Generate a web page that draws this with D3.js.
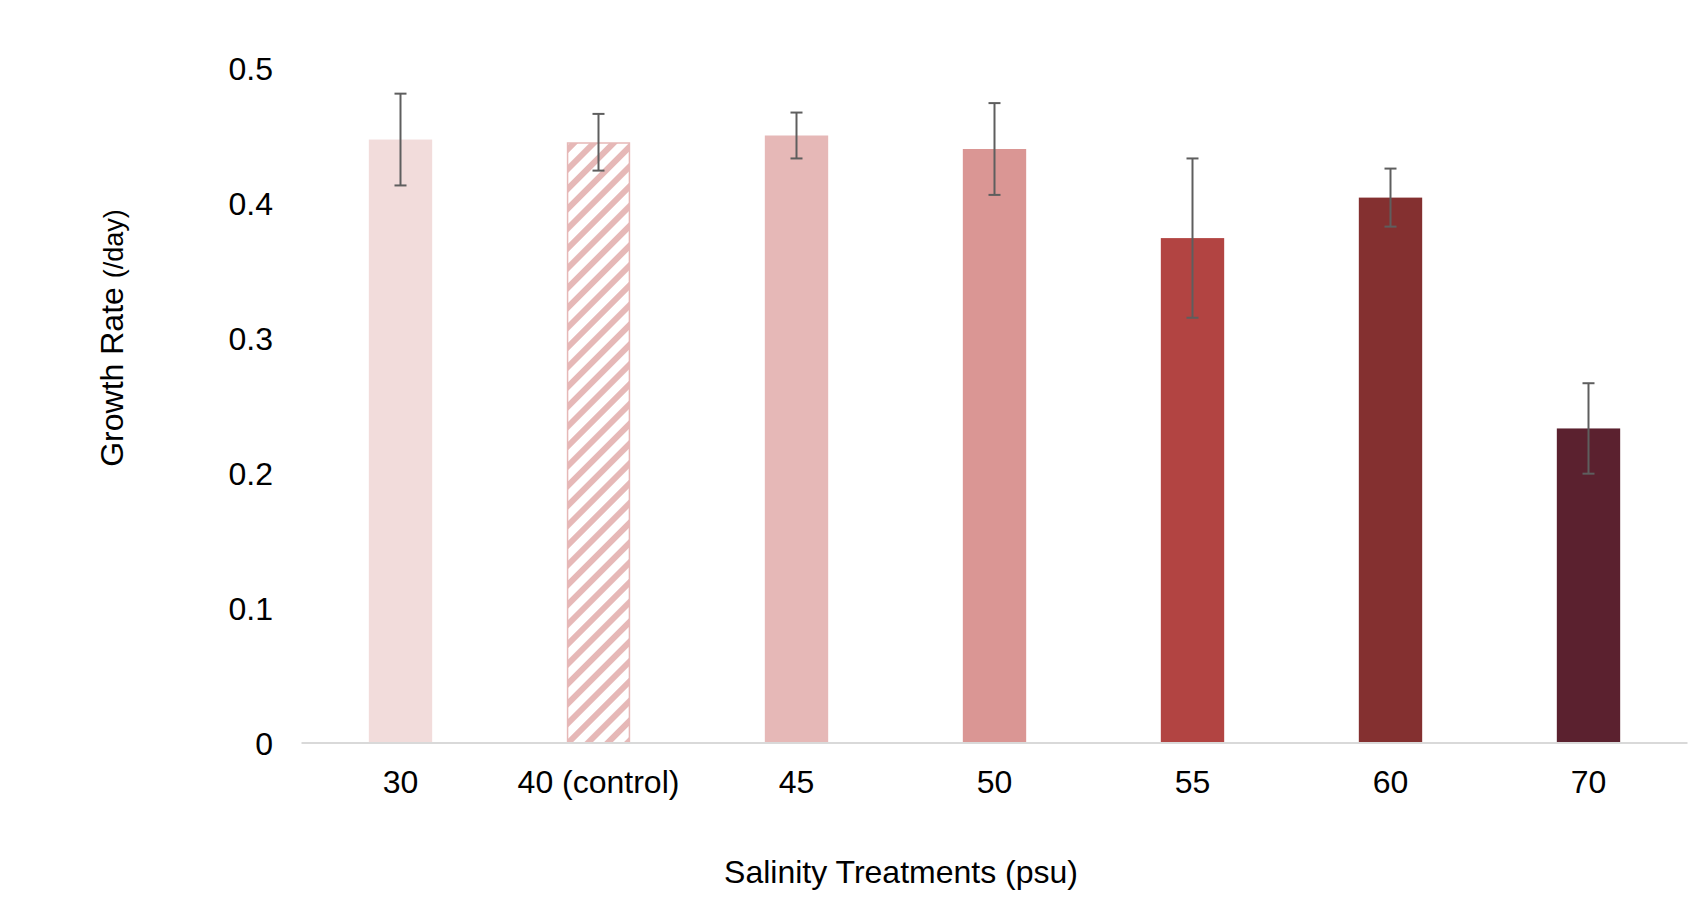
<!DOCTYPE html>
<html>
<head>
<meta charset="utf-8">
<script src="https://cdn.jsdelivr.net/npm/d3@7"></script>
<style>
  html, body { margin: 0; padding: 0; background: #fff; }
  svg text { font-family: "Liberation Sans", Arial, sans-serif; fill: #000; }
</style>
</head>
<body>
<svg id="chart" width="1700" height="900"></svg>
<script>
// Salinity treatments and mean growth rates with standard deviations
const categories = ["30", "40 (control)", "45", "50", "55", "60", "70"];
const growthRate = [0.447, 0.445, 0.450, 0.440, 0.374, 0.404, 0.233];
const errorSize  = [0.034, 0.021, 0.017, 0.034, 0.059, 0.0215, 0.0335];
const barColors  = ["#F2DCDB", "#E6B8B7", "#E6B8B7", "#DA9694", "#B24442", "#843030", "#5B212F"];
const hatched    = [false, true, false, false, false, false, false];
const yTicks     = [0, 0.1, 0.2, 0.3, 0.4, 0.5];
const yTickLabels = ["0", "0.1", "0.2", "0.3", "0.4", "0.5"];

const svg = d3.select("#chart");

const plot = { left: 301.5, right: 1687.5, top: 68, bottom: 743 };

const x = d3.scaleBand()
  .domain(categories)
  .range([plot.left, plot.right])
  .paddingInner(0.68)
  .paddingOuter(0.34);

const y = d3.scaleLinear()
  .domain([0, 0.5])
  .range([plot.bottom, plot.top]);

// Diagonal stripe fill for the control treatment
const defs = svg.append("defs");
const pat = defs.append("pattern")
  .attr("id", "stripes")
  .attr("patternUnits", "userSpaceOnUse")
  .attr("width", 14)
  .attr("height", 14)
  .attr("patternTransform", "rotate(45)");
pat.append("rect").attr("width", 14).attr("height", 14).attr("fill", "#fff");
pat.append("rect").attr("width", 6).attr("height", 14).attr("fill", "#E6B8B7");

// Bars
const data = categories.map((c, i) => ({
  cat: c, value: growthRate[i], err: errorSize[i], color: barColors[i], hatch: hatched[i]
}));

svg.append("g").selectAll("rect")
  .data(data)
  .join("rect")
  .attr("x", d => x(d.cat) + (d.hatch ? 0.75 : 0))
  .attr("y", d => y(d.value) + (d.hatch ? 0.75 : 0))
  .attr("width", d => x.bandwidth() - (d.hatch ? 1.5 : 0))
  .attr("height", d => y(0) - y(d.value) - (d.hatch ? 0.75 : 0))
  .attr("fill", d => d.hatch ? "url(#stripes)" : d.color)
  .attr("stroke", d => d.hatch ? d.color : "none")
  .attr("stroke-width", 1.5);

// Baseline
svg.append("line")
  .attr("x1", plot.left).attr("x2", plot.right)
  .attr("y1", y(0)).attr("y2", y(0))
  .attr("stroke", "#D9D9D9")
  .attr("stroke-width", 2);

// Error bars
const eg = svg.append("g")
  .attr("stroke", "#5E5E5E")
  .attr("stroke-width", 2)
  .attr("fill", "none");
data.forEach(d => {
  const cx = x(d.cat) + x.bandwidth() / 2;
  const y1 = y(d.value + d.err), y2 = y(d.value - d.err);
  eg.append("line").attr("x1", cx).attr("x2", cx).attr("y1", y1).attr("y2", y2);
  eg.append("line").attr("x1", cx - 6).attr("x2", cx + 6).attr("y1", y1).attr("y2", y1);
  eg.append("line").attr("x1", cx - 6).attr("x2", cx + 6).attr("y1", y2).attr("y2", y2);
});

// Y axis tick labels
const yAxis = d3.axisLeft(y)
  .tickValues(yTicks)
  .tickFormat((d, i) => yTickLabels[i])
  .tickSize(0)
  .tickPadding(0);
const yg = svg.append("g")
  .attr("transform", "translate(273,0)")
  .call(yAxis);
yg.select(".domain").remove();
yg.selectAll("text")
  .attr("font-size", 32)
  .attr("font-family", "Liberation Sans, Arial, sans-serif")
  .attr("fill", "#000")
  .attr("dy", "0.35em");

// X axis category labels
const xAxis = d3.axisBottom(x).tickSize(0).tickPadding(0);
const xg = svg.append("g")
  .attr("transform", "translate(0,770)")
  .call(xAxis);
xg.select(".domain").remove();
xg.selectAll("text")
  .attr("font-size", 32)
  .attr("font-family", "Liberation Sans, Arial, sans-serif")
  .attr("fill", "#000")
  .attr("dy", "0.71em");

// Axis titles
svg.append("text")
  .attr("x", 901)
  .attr("y", 883)
  .attr("text-anchor", "middle")
  .attr("font-size", 32)
  .text("Salinity Treatments (psu)");

const yt = svg.append("text")
  .attr("transform", "translate(123,338) rotate(-90)")
  .attr("text-anchor", "middle")
  .attr("font-size", 32);
yt.append("tspan").text("Growth Rate ");
yt.append("tspan").attr("font-size", 27).text("(/day)");
</script>
</body>
</html>
